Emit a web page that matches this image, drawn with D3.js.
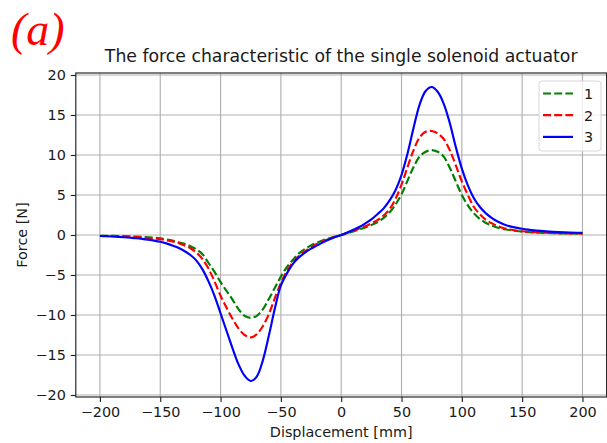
<!DOCTYPE html>
<html>
<head>
<meta charset="utf-8">
<script src="https://cdn.jsdelivr.net/npm/d3@7/dist/d3.min.js"></script>
<style>
  html, body { margin: 0; padding: 0; background: #fff; }
  svg { display: block; }
  text { font-family: "DejaVu Sans", sans-serif; fill: #1a1a1a; }
</style>
</head>
<body>
<svg id="chart" width="607" height="443"></svg>
<script>
// Displacement samples [mm]
const displacement = [
  -200, -195, -190, -185, -180, -175, -170, -165, -160, -155,
  -150, -145, -140, -135, -130, -125, -120, -115, -110, -105,
  -100, -95, -90, -85, -80, -75, -70, -65, -60, -55,
  -50, -45, -40, -35, -30, -25, -20, -15, -10, -5,
  0, 5, 10, 15, 20, 25, 30, 35, 40, 45,
  50, 55, 60, 65, 70, 75, 80, 85, 90, 95,
  100, 105, 110, 115, 120, 125, 130, 135, 140, 145,
  150, 155, 160, 165, 170, 175, 180, 185, 190, 195, 200
];

// Force [N] for each case
const force1 = [
  -0.09, -0.1, -0.11, -0.13, -0.15, -0.18, -0.21, -0.25, -0.3, -0.35,
  -0.42, -0.55, -0.7, -0.9, -1.1, -1.4, -1.8, -2.4, -3.5, -4.6,
  -5.9, -7.0, -8.1, -9.3, -10.1, -10.35, -10.1, -9.3, -8.0, -6.6,
  -5.2, -4.0, -3.1, -2.3, -1.75, -1.3, -0.95, -0.65, -0.42, -0.2,
  0, 0.2, 0.45, 0.7, 0.95, 1.25, 1.6, 2.1, 2.8, 3.8,
  5.1, 6.8, 8.5, 9.8, 10.4, 10.6, 10.4, 9.8, 8.4, 6.7,
  5.0, 3.7, 2.7, 2.0, 1.5, 1.15, 0.9, 0.72, 0.6, 0.5,
  0.42, 0.36, 0.32, 0.28, 0.25, 0.23, 0.21, 0.2, 0.19, 0.18, 0.17
];
const force2 = [
  -0.12, -0.13, -0.15, -0.17, -0.19, -0.22, -0.26, -0.31, -0.37, -0.44,
  -0.52, -0.65, -0.8, -1.0, -1.3, -1.65, -2.2, -3.0, -4.2, -5.8,
  -7.6, -9.1, -10.5, -11.7, -12.5, -12.8, -12.4, -11.4, -9.9, -7.9,
  -6.0, -4.5, -3.4, -2.6, -2.05, -1.55, -1.1, -0.75, -0.48, -0.22,
  0, 0.25, 0.5, 0.8, 1.1, 1.45, 1.85, 2.4, 3.2, 4.5,
  6.3, 8.5, 10.6, 12.2, 12.9, 13.0, 12.7, 12.0, 10.6, 8.7,
  6.7, 5.0, 3.5, 2.6, 1.9, 1.45, 1.1, 0.85, 0.68, 0.56,
  0.47, 0.4, 0.35, 0.31, 0.28, 0.25, 0.23, 0.21, 0.2, 0.19, 0.18
];
const force3 = [
  -0.12, -0.15, -0.19, -0.23, -0.28, -0.34, -0.4, -0.48, -0.58, -0.7,
  -0.85, -1.05, -1.3, -1.6, -2.0, -2.5, -3.2, -4.3, -5.8, -7.6,
  -9.8, -12.0, -14.2, -16.2, -17.6, -18.25, -17.7, -15.7, -12.6, -9.2,
  -6.3, -4.8, -3.6, -2.8, -2.2, -1.7, -1.3, -0.9, -0.55, -0.25,
  0, 0.3, 0.65, 1.0, 1.45, 1.95, 2.6, 3.3, 4.3, 5.6,
  7.5, 10.2, 13.4, 16.3, 18.0, 18.5, 17.9, 16.4, 14.0, 11.0,
  8.3, 6.2, 4.6, 3.5, 2.7, 2.1, 1.65, 1.32, 1.08, 0.92,
  0.78, 0.67, 0.58, 0.51, 0.45, 0.4, 0.36, 0.33, 0.3, 0.28, 0.26
];

const seriesNames = ["1", "2", "3"];
const xTicks = [-200, -150, -100, -50, 0, 50, 100, 150, 200];
const yTicks = [-20, -15, -10, -5, 0, 5, 10, 15, 20];

const series = [
  { name: seriesNames[0], values: force1, color: "#008000", dash: "8,3.2" },
  { name: seriesNames[1], values: force2, color: "#ff0000", dash: "8,3.2" },
  { name: seriesNames[2], values: force3, color: "#0000ff", dash: null }
];

const svg = d3.select("#chart");
const plot = { left: 75.8, right: 606.6, top: 73, bottom: 397 };
const baseFont = 14.4;

const x = d3.scaleLinear().domain([-220, 220]).range([plot.left, plot.right]);
const y = d3.scaleLinear().domain([-20.25, 20.25]).range([plot.bottom, plot.top]);

// panel label
svg.append("text")
  .attr("x", 11).attr("y", 45)
  .style("font-family", "'Liberation Serif', 'DejaVu Serif', serif")
  .style("font-style", "italic")
  .style("font-size", "46px")
  .style("fill", "#ff0000")
  .text("(a)");

// title
svg.append("text")
  .attr("x", (plot.left + plot.right) / 2).attr("y", 62)
  .attr("text-anchor", "middle")
  .style("font-size", (baseFont * 1.2) + "px")
  .text("The force characteristic of the single solenoid actuator");

// grid
const grid = svg.append("g");
grid.selectAll("line.gx").data(xTicks).join("line")
  .attr("x1", d => x(d)).attr("x2", d => x(d))
  .attr("y1", plot.top).attr("y2", plot.bottom)
  .attr("stroke", "#b0b0b0").attr("stroke-width", 1.15);
grid.selectAll("line.gy").data(yTicks).join("line")
  .attr("y1", d => y(d)).attr("y2", d => y(d))
  .attr("x1", plot.left).attr("x2", plot.right)
  .attr("stroke", "#b0b0b0").attr("stroke-width", 1.15);

// curves
svg.append("defs").append("clipPath").attr("id", "clip")
  .append("rect").attr("x", plot.left).attr("y", plot.top)
  .attr("width", plot.right - plot.left).attr("height", plot.bottom - plot.top);

const line = d3.line().curve(d3.curveCatmullRom.alpha(0.5));
const curves = svg.append("g").attr("clip-path", "url(#clip)");
series.forEach(s => {
  curves.append("path")
    .attr("d", line(displacement.map((d, i) => [x(d), y(s.values[i])])))
    .attr("fill", "none")
    .attr("stroke", s.color)
    .attr("stroke-width", 2.16)
    .attr("stroke-dasharray", s.dash);
});

// axes
const minus = d => d < 0 ? "\u2212" + Math.abs(d) : d;
const xAxis = d3.axisBottom(x).tickValues(xTicks).tickSize(5).tickPadding(5).tickFormat(minus);
const yAxis = d3.axisLeft(y).tickValues(yTicks).tickSize(5).tickPadding(5).tickFormat(minus);

const gx = svg.append("g").attr("transform", `translate(0,${plot.bottom})`).call(xAxis);
const gy = svg.append("g").attr("transform", `translate(${plot.left},0)`).call(yAxis);
[gx, gy].forEach(g => {
  g.select(".domain").remove();
  g.selectAll(".tick line").attr("stroke", "#222").attr("stroke-width", 1.15);
  g.selectAll(".tick text").style("font-size", baseFont + "px")
    .style("font-family", "DejaVu Sans").attr("fill", "#1a1a1a");
});

// frame
svg.append("rect")
  .attr("x", plot.left).attr("y", plot.top)
  .attr("width", plot.right - plot.left).attr("height", plot.bottom - plot.top)
  .attr("fill", "none").attr("stroke", "#222").attr("stroke-width", 1.15);

// axis labels
svg.append("text")
  .attr("x", (plot.left + plot.right) / 2).attr("y", 437)
  .attr("text-anchor", "middle")
  .style("font-size", baseFont + "px")
  .text("Displacement [mm]");
svg.append("text")
  .attr("transform", `translate(26.5,${(plot.top + plot.bottom) / 2}) rotate(-90)`)
  .attr("text-anchor", "middle")
  .style("font-size", baseFont + "px")
  .text("Force [N]");

// legend
const lg = svg.append("g").attr("transform", "translate(539,81)");
lg.append("rect")
  .attr("width", 62).attr("height", 70).attr("rx", 3)
  .attr("fill", "#fff").attr("fill-opacity", 0.8)
  .attr("stroke", "#d6d6d6").attr("stroke-width", 1);
series.forEach((s, i) => {
  const cy = 12.5 + i * 21.7;
  lg.append("line")
    .attr("x1", 4).attr("x2", 34).attr("y1", cy).attr("y2", cy)
    .attr("stroke", s.color).attr("stroke-width", 2.16)
    .attr("stroke-dasharray", s.dash);
  lg.append("text")
    .attr("x", 45).attr("y", cy + 5.3)
    .style("font-size", baseFont + "px")
    .text(s.name);
});
</script>
</body>
</html>
